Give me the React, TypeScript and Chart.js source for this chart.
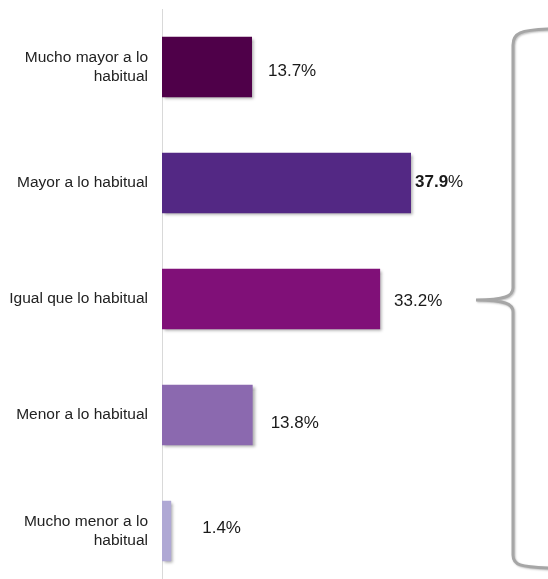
import React, { useEffect, useRef } from "react";
import { Chart, registerables } from "chart.js";

Chart.register(...registerables);

const categories: string[][] = [
  ["Mucho mayor a lo", "habitual"],
  ["Mayor a lo habitual"],
  ["Igual que lo habitual"],
  ["Menor a lo habitual"],
  ["Mucho menor a lo", "habitual"],
];
const values: number[] = [13.7, 37.9, 33.2, 13.8, 1.4];
const valueLabels: string[] = ["13.7", "37.9", "33.2", "13.8", "1.4"];
const barColors: string[] = ["#4F0049", "#532884", "#801078", "#8B69AF", "#AFA8D4"];
const boldLabels: boolean[] = [false, true, false, false, false];
const labelDx: number[] = [16, 4, 14, 18, 31];
const labelDy: number[] = [4, -1, 2, 8, -3];

const FONT = "'Liberation Sans', Arial, sans-serif";

export default function App() {
  const ref = useRef<HTMLCanvasElement | null>(null);

  useEffect(() => {
    if (!ref.current) return;

    const shadowPlugin = {
      id: "barShadow",
      beforeDatasetsDraw(chart: any) {
        const ctx = chart.ctx;
        ctx.save();
        ctx.shadowColor = "rgba(0,0,0,0.35)";
        ctx.shadowBlur = 3;
        ctx.shadowOffsetX = 2;
        ctx.shadowOffsetY = 2;
      },
      afterDatasetsDraw(chart: any) {
        chart.ctx.restore();
      },
    };

    const labelPlugin = {
      id: "valueLabels",
      afterDraw(chart: any) {
        const ctx = chart.ctx;
        const meta = chart.getDatasetMeta(0);
        ctx.save();
        ctx.fillStyle = "#1a1a1a";
        ctx.textBaseline = "middle";
        ctx.textAlign = "left";
        meta.data.forEach((bar: any, i: number) => {
          const x = bar.x + labelDx[i];
          const y = bar.y + labelDy[i];
          ctx.font = `${boldLabels[i] ? "bold " : ""}17px ${FONT}`;
          ctx.fillText(valueLabels[i], x, y);
          const w = ctx.measureText(valueLabels[i]).width;
          ctx.font = `17px ${FONT}`;
          ctx.fillText("%", x + w, y);
        });
        ctx.restore();

        // curly brace
        ctx.save();
        ctx.strokeStyle = "#A6A6A6";
        ctx.lineWidth = 3;
        ctx.lineCap = "round";
        ctx.shadowColor = "rgba(0,0,0,0.25)";
        ctx.shadowBlur = 2;
        ctx.shadowOffsetX = 1;
        ctx.shadowOffsetY = 1;
        ctx.beginPath();
        ctx.moveTo(550, 29);
        ctx.bezierCurveTo(520, 30, 513, 33, 513, 45);
        ctx.lineTo(513, 288);
        ctx.bezierCurveTo(513, 296, 505, 300, 476, 300);
        ctx.bezierCurveTo(505, 300, 513, 304, 513, 312);
        ctx.lineTo(513, 555);
        ctx.bezierCurveTo(513, 565, 520, 567, 550, 568);
        ctx.stroke();
        ctx.restore();
      },
    };

    const chart = new Chart(ref.current, {
      type: "bar",
      data: {
        labels: categories,
        datasets: [
          {
            data: values,
            backgroundColor: barColors,
            borderWidth: 0,
            barPercentage: 0.52,
            categoryPercentage: 1,
          },
        ],
      },
      options: {
        indexAxis: "y",
        responsive: false,
        animation: false,
        devicePixelRatio: 1,
        layout: { padding: { top: 9, bottom: 1, left: 0, right: 57.5 } },
        plugins: {
          legend: { display: false },
          tooltip: { enabled: false },
        },
        scales: {
          x: { display: false, min: 0, max: 50 },
          y: {
            grid: { display: false, drawTicks: false },
            border: { display: true, color: "#D9D9D9", width: 1 },
            ticks: {
              padding: 14,
              color: "#222",
              font: { family: FONT, size: 15.5, lineHeight: 1.2 },
            },
            afterFit(scale: any) {
              scale.width = 162;
              scale.paddingTop = 0;
              scale.paddingBottom = 0;
            },
          },
        },
      },
      plugins: [shadowPlugin, labelPlugin],
    } as any);

    return () => chart.destroy();
  }, []);

  return (
    <div
      style={{
        position: "fixed",
        left: 0,
        top: 0,
        width: 548,
        height: 579,
        overflow: "hidden",
        background: "#fff",
      }}
    >
      <canvas
        ref={ref}
        width={548}
        height={590}
        style={{ display: "block", width: 548, height: 590 }}
      />
    </div>
  );
}
